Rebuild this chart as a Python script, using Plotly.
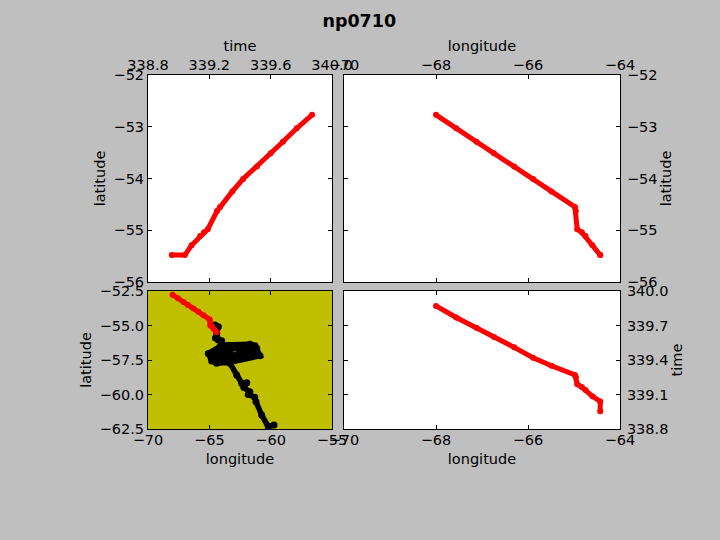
import plotly.graph_objects as go

TITLE = "np0710"
time = [338.955, 339.04, 339.084, 339.14, 339.165, 339.19, 339.25, 339.27, 339.35, 339.42, 339.51, 339.6, 339.68, 339.77, 339.87]
lat = [-55.48, -55.48, -55.29, -55.11, -55.04, -54.98, -54.63, -54.55, -54.25, -54.01, -53.77, -53.51, -53.29, -53.03, -52.77]
lon = [-64.43, -64.43, -64.6, -64.75, -64.83, -64.93, -64.96, -64.98, -65.49, -65.89, -66.30, -66.74, -67.12, -67.56, -68.0]

cruise_lon = [-64.54, -64.27, -64.4, -64.27, -64.5, -64.0, -64.13, -65.08, -64.81, -64.4, -63.32, -60.87, -61.28, -61.69, -63.86,
              -64.81, -64.27, -61.42, -61.14, -64.13, -64.54, -62.5, -61.42, -63.0, -63.6, -64.6, -63.32, -62.77, -62.35, -61.95, -62.18, -61.7, -61.82, -61.3, -61.2,
              -60.73, -60.2, -59.73]
cruise_lat = [-54.96, -55.09, -55.57, -56.05, -55.9, -56.1, -56.53, -57.02, -57.57, -57.74, -57.67, -57.19, -56.46, -56.36, -56.41,
              -57.02, -57.43, -57.07, -56.65, -56.7, -57.26, -57.26, -56.6, -57.2, -56.8, -57.5, -57.74, -58.59, -59.2, -59.15, -59.5, -59.8, -60.0, -60.2, -60.52,
              -61.49, -62.33, -62.21]

time_ticks_top = [338.8, 339.2, 339.6, 340.0]
time_ticks_right = [338.8, 339.1, 339.4, 339.7, 340.0]
lon_ticks_top = [-70, -68, -66, -64]
lat_ticks_top = [-56, -55, -54, -53, -52]
lon_ticks_map = [-70, -65, -60, -55]
lat_ticks_map = [-62.5, -60.0, -57.5, -55.0, -52.5]
lon_ticks_bottom = [-70, -68, -66, -64]

W, H = 720, 540
FONT = "DejaVu Sans"
GREY = "#bfbfbf"


def dom_x(a, b):
    return [a / W, b / W]


def dom_y(top, bottom):
    return [1 - bottom / H, 1 - top / H]


def fmt(v, d):
    return f"{v:.{d}f}".replace("-", "\u2212")


def axis(domain, rng, ticks, dec, side, title, anchor, standoff, label_off=0):
    return dict(
        domain=domain, range=rng, side=side, anchor=anchor,
        tickmode="array", tickvals=ticks, ticktext=[fmt(t, dec) for t in ticks],
        ticks="inside", ticklen=4, tickwidth=1, tickcolor="black",
        showline=True, mirror="allticks", linecolor="black", linewidth=1,
        showgrid=False, zeroline=False, automargin=False, tickangle=0,
        ticklabelstandoff=label_off,
        tickfont=dict(family=FONT, size=14.5, color="black"),
        title=dict(text=title, standoff=standoff, font=dict(family=FONT, size=14.5, color="black")),
    )


fig = go.Figure()
red = dict(mode="lines+markers", line=dict(color="#ff0000", width=5), marker=dict(color="#ff0000", size=6), showlegend=False, hoverinfo="skip")

fig.add_trace(go.Scatter(x=time, y=lat, xaxis="x", yaxis="y", **red))
fig.add_trace(go.Scatter(x=lon, y=lat, xaxis="x2", yaxis="y2", **red))
fig.add_trace(go.Scatter(x=cruise_lon, y=cruise_lat, xaxis="x3", yaxis="y3", mode="lines+markers",
                         line=dict(color="black", width=5.5), marker=dict(color="black", size=7),
                         showlegend=False, hoverinfo="skip"))
fig.add_trace(go.Scatter(x=lon, y=lat, xaxis="x3", yaxis="y3", **red))
fig.add_trace(go.Scatter(x=lon, y=time, xaxis="x4", yaxis="y4", **red))

fig.update_layout(
    width=W, height=H, margin=dict(l=0, r=0, t=0, b=0), autosize=False,
    paper_bgcolor=GREY, plot_bgcolor="white",
    font=dict(family=FONT, size=14.5, color="black"),
    title=dict(text=f"<b>{TITLE}</b>", x=0.499, xanchor="center", y=0.961, yanchor="middle",
               font=dict(family=FONT, size=17.5, color="black")),
    xaxis=axis(dom_x(148, 332), [338.8, 340.0], time_ticks_top, 1, "top", "time", "y", 2, -2),
    yaxis=axis(dom_y(75, 282), [-56, -52], lat_ticks_top, 0, "left", "latitude", "x", 4),
    xaxis2=axis(dom_x(344, 620), [-70, -64], lon_ticks_top, 0, "top", "longitude", "y2", 2, -2),
    yaxis2=axis(dom_y(75, 282), [-56, -52], lat_ticks_top, 0, "right", "latitude", "x2", 4, 3),
    xaxis3=axis(dom_x(148, 332), [-70, -55], lon_ticks_map, 0, "bottom", "longitude", "y3", 6, -2),
    yaxis3=axis(dom_y(291, 429), [-62.5, -52.5], lat_ticks_map, 1, "left", "latitude", "x3", 4),
    xaxis4=axis(dom_x(344, 620), [-70, -64], lon_ticks_bottom, 0, "bottom", "longitude", "y4", 6, -2),
    yaxis4=axis(dom_y(291, 429), [338.8, 340.0], time_ticks_right, 1, "right", "time", "x4", 4, 3),
    shapes=[
        dict(type="rect", xref="x3 domain", yref="y3 domain", x0=0, x1=1, y0=0, y1=1,
             fillcolor="#bfbf00", line=dict(width=0), layer="below"),
    ],
)

fig.write_html("out.html", config=dict(displayModeBar=False),
               post_script="document.body.style.margin='0';document.documentElement.style.overflow='hidden';window.dispatchEvent(new Event('resize'));")
